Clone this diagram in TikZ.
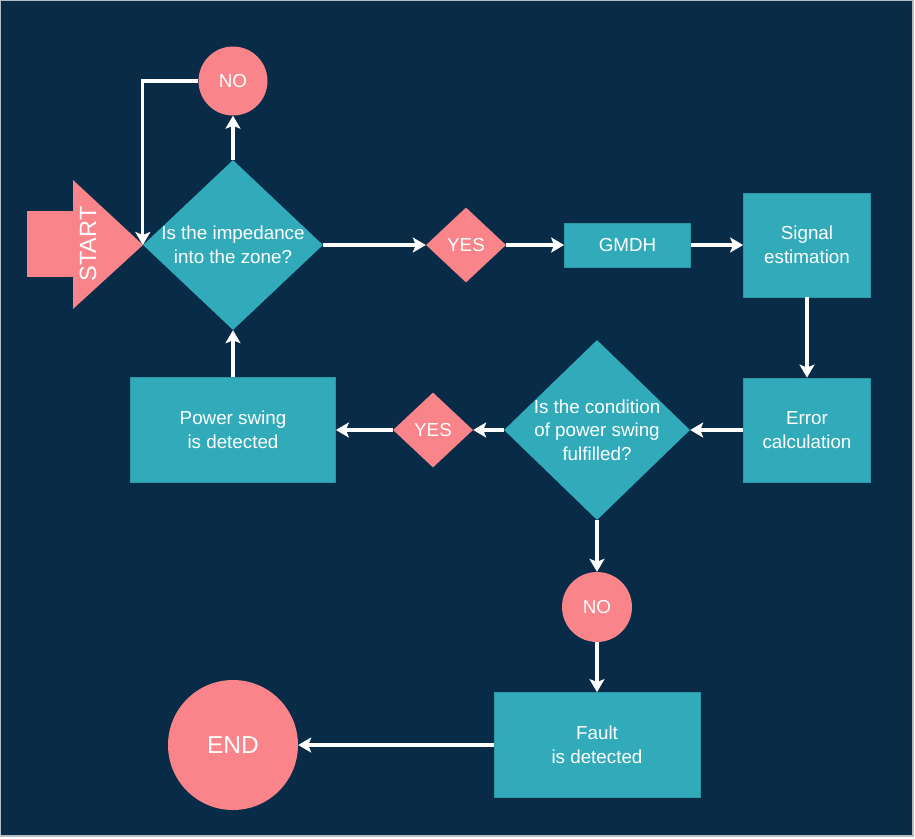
\documentclass[tikz,border=0pt]{standalone}
\usepackage{fontspec}
\setmainfont{Liberation Sans}
\usetikzlibrary{positioning,shapes.geometric,arrows.meta}
\definecolor{fcNavy}{HTML}{082C47}
\definecolor{fcTeal}{HTML}{31ABBA}
\definecolor{fcTealLine}{HTML}{2A97A5}
\definecolor{fcPink}{HTML}{F9848A}
\definecolor{fcFrame}{HTML}{B4BCC4}

\begin{document}
\begin{tikzpicture}[x=1pt, y=-1pt,
  txt/.style={text=white, font=\fontsize{18.8}{23.5}\selectfont, align=center},
  procbox/.style={txt, rectangle, fill=fcTeal, draw=fcTealLine, line width=0.8pt, inner sep=0pt},
  askbox/.style={txt, diamond, fill=fcTeal, inner sep=-12pt},
  yesbox/.style={txt, diamond, fill=fcPink, minimum width=80pt, minimum height=75pt, inner sep=0pt},
  endbox/.style={txt, circle, fill=fcPink, inner sep=0pt},
  flow/.style={draw=white, line width=3.2pt, -{Stealth[length=13pt,width=15pt,inset=3pt]}},
]

% --- CANVAS ---
\useasboundingbox (0,0) rectangle (915,838);
\fill[white] (0,0) rectangle (915,838);
\filldraw[fill=fcNavy, draw=fcFrame, line width=1.5pt] (0,0) rectangle (913,836);

% --- START arrow ---
\fill[fcPink] (27,211) rectangle (73,277);
\fill[fcPink] (73,180) -- (143,245) -- (73,309) -- cycle;
\node[txt, font=\fontsize{23.5}{28}\selectfont, rotate=90] (start) at (88,244) {START};

% --- TOP ROW (y = 245) ---
\node[askbox, minimum width=180pt, minimum height=170pt] (ask1) at (233,245)
  {Is the impedance\\into the zone?};
\node[endbox, minimum size=69pt] (no1) at (233,81) {NO};
\node[yesbox] (yes1) at (466,245) {YES};
\node[procbox, minimum width=126pt, minimum height=44pt] (gmdh) at (627.5,245) {GMDH};
\node[procbox, minimum width=127pt, minimum height=104pt] (signal) at (807,245)
  {Signal\\estimation};

% --- MIDDLE ROW (y = 430) ---
\node[procbox, minimum width=127pt, minimum height=104pt] (error) at (807,430)
  {Error\\calculation};
\node[askbox, minimum width=186pt, minimum height=180pt] (ask2) at (597,430)
  {Is the condition\\of power swing\\fulfilled?};
\node[yesbox] (yes2) at (433,430) {YES};
\node[procbox, minimum width=205pt, minimum height=105pt] (swing) at (233,430)
  {Power swing\\is detected};

% --- BOTTOM ROW (y = 745) ---
\node[endbox, minimum size=70pt] (no2) at (597,607) {NO};
\node[procbox, minimum width=206pt, minimum height=105pt] (fault) at (597,745)
  {Fault\\is detected};
\node[endbox, minimum size=130pt, font=\fontsize{24.5}{29}\selectfont] (end) at (233,745) {END};

% --- CONNECTORS ---
\draw[flow] (ask1.north) -- (no1.south);
\draw[flow] (no1.west) -| (ask1.west);
\draw[flow] (ask1.east) -- (yes1.west);
\draw[flow] (yes1.east) -- (gmdh.west);
\draw[flow] (gmdh.east) -- (signal.west);
\draw[flow] (signal.south) -- (error.north);
\draw[flow] (error.west) -- (ask2.east);
\draw[flow] (ask2.west) -- (yes2.east);
\draw[flow] (yes2.west) -- (swing.east);
\draw[flow] (swing.north) -- (ask1.south);
\draw[flow] (ask2.south) -- (no2.north);
\draw[flow] (no2.south) -- (fault.north);
\draw[flow] (fault.west) -- (end.east);

\end{tikzpicture}
\end{document}
